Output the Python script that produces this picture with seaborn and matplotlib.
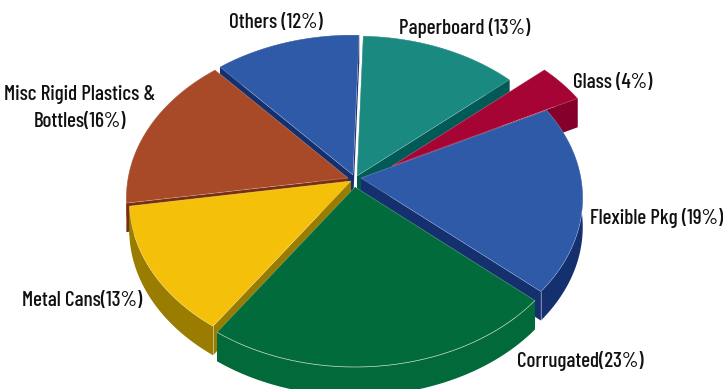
import numpy as np
import matplotlib
matplotlib.use("Agg")
import matplotlib.pyplot as plt
import seaborn as sns

# Packaging mix, clockwise from twelve o'clock
categories = ["Paperboard", "Glass", "Flexible Pkg", "Corrugated", "Metal Cans",
              "Misc Rigid Plastics &\nBottles", "Others"]
shares = [13, 4, 19, 23, 13, 16, 12]
label_texts = ["Paperboard (13%)", "Glass (4%)", "Flexible Pkg (19%)", "Corrugated(23%)",
               "Metal Cans(13%)", "Misc Rigid Plastics &\nBottles(16%)", "Others (12%)"]
face_colors = ["#1a8a80", "#a50434", "#2e5aa8", "#026b3c", "#f4c00a", "#a84a28", "#2e5aa8"]
side_colors = ["#015a55", "#85002a", "#15306f", "#02693a", "#9a7c00", "#7a3010", "#15306f"]

# Where each exploded slice has its apex, in pixel space
apexes = [(357, 176), (392, 166), (361, 178), (355, 187), (351, 181), (348, 178), (353, 175)]
label_xy = [(465, 28), (613, 82), (657, 218), (580, 361), (82, 301), (80, 108), (276, 22)]

RX, RY, PERSP, DEPTH, TWIST = 220, 157.5, 0.125, 29, 1.8
draw_order = [6, 0, 5, 1, 2, 4, 3]

sns.set_theme(style="white")
plt.rcParams["font.family"] = ["Barlow Condensed", "Liberation Sans", "DejaVu Sans"]

fig = plt.figure(figsize=(7.23, 3.89), dpi=100)
ax = fig.add_axes([0, 0, 1, 1])
ax.set_xlim(0, 723)
ax.set_ylim(389, 0)
ax.set_axis_off()


def rim(start, stop, apex, n=60):
    """Project a clockwise arc of the unit disc onto the tilted plane."""
    theta = np.radians(np.linspace(start, stop, n) + TWIST)
    scale = 1 + PERSP * np.cos(theta)
    return (apex[0] + RX * np.sin(theta) / scale,
            apex[1] - RY * np.cos(theta) / scale)


edges = np.cumsum([0] + shares) * 3.6
palette = sns.color_palette(face_colors)
shade = sns.color_palette(side_colors)

for rank, i in enumerate(draw_order):
    arc_x, arc_y = rim(edges[i], edges[i + 1], apexes[i])
    px = np.r_[apexes[i][0], arc_x]
    py = np.r_[apexes[i][1], arc_y]
    z = 2 + rank * 2
    # Extruded wall: outer rim band, the two cut faces, then the top face
    ax.fill(np.r_[arc_x, arc_x[::-1]], np.r_[arc_y, arc_y[::-1] + DEPTH],
            color=shade[i], lw=0, zorder=z)
    for ex, ey in ((arc_x[0], arc_y[0]), (arc_x[-1], arc_y[-1])):
        ax.fill([apexes[i][0], ex, ex, apexes[i][0]],
                [apexes[i][1], ey, ey + DEPTH, apexes[i][1] + DEPTH],
                color=shade[i], lw=0, zorder=z)
    ax.fill(px, py, facecolor=palette[i], edgecolor=(1, 1, 1, 0.3), lw=0.5, zorder=z + 1)

# Highlights along the front rim
cx, cy = rim(edges[3], edges[4], apexes[3])
ax.plot(cx, cy, color="#b8d0bd", lw=0.5, alpha=0.8, zorder=30)
for i, end in ((4, edges[4]), (2, edges[3])):
    ex, ey = rim(end, end, apexes[i], n=1)
    ax.plot([ex[0], ex[0]], [ey[0], ey[0] + DEPTH], color="white", lw=0.5, alpha=0.6,
            zorder=3 + draw_order.index(i) * 2)

for text, (x, y) in zip(label_texts, label_xy):
    ax.text(x, y, text, ha="center", va="center", fontsize=15.2, fontweight="medium",
            color="#111111", linespacing=1.5, zorder=40)

fig.savefig("out.png", dpi=100, facecolor="white")
